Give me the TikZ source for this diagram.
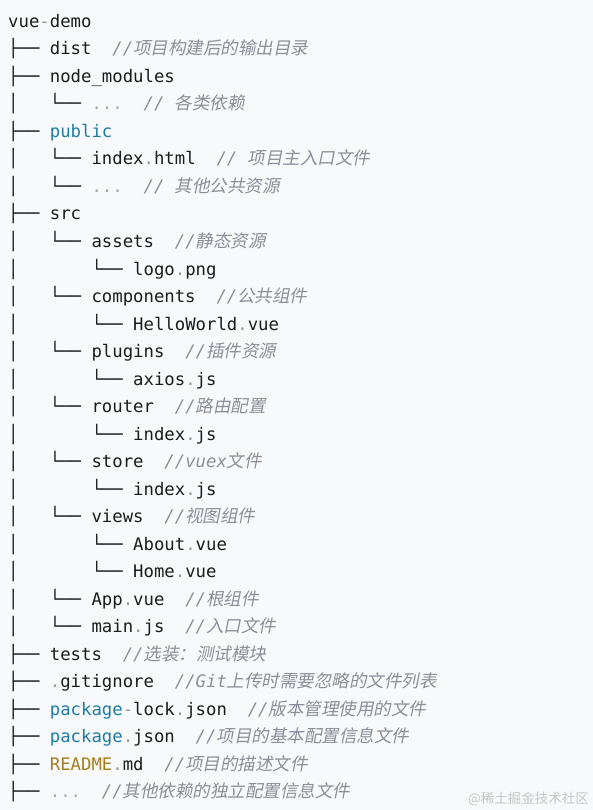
\documentclass[tikz,border=0pt]{standalone}
\usepackage{fontspec}
\setmonofont{DejaVu Sans Mono}
\newfontfamily\zhfont[FakeSlant=0.2]{Noto Sans CJK SC}
\newfontfamily\wmfont{Noto Sans CJK SC}
\definecolor{bg}{HTML}{F8F9FA}
\definecolor{ink}{HTML}{1C1C1C}
\definecolor{cmtc}{HTML}{8A8F99}
\definecolor{punct}{HTML}{9A9A9A}
\definecolor{dotsc}{HTML}{A8A8A8}
\definecolor{kw}{HTML}{1E7CA6}
\definecolor{gold}{HTML}{A67D1F}
\definecolor{wm}{HTML}{C6C6C6}
\newcommand\zh[1]{{\fontsize{17.5}{17.5}\selectfont\zhfont #1}}
\newcommand\cmt[1]{{\color{cmtc}\itshape #1}}
\newcommand\pu[1]{{\color{punct}#1}}
\newcommand\mydots{{\color{dotsc}...}}
\tikzset{treeline/.style={anchor=base west, inner sep=0pt, font=\ttfamily\fontsize{17.3}{27.5}\selectfont, text=ink}}
\begin{document}
\begin{tikzpicture}[x=1pt,y=-1pt]
\fill[bg] (0,0) rectangle (593,810);
\useasboundingbox (0,0) rectangle (593,810);
\node[treeline] (l0) at (8,27.5) {vue\pu{-}demo};
\node[treeline] (l1) at (8,55) {├──~dist~~\cmt{//\zh{项目构建后的输出目录}}};
\node[treeline] (l2) at (8,82.5) {├──~node\_modules};
\node[treeline] (l3) at (8,110) {│~~~└──~\mydots~~\cmt{//~\zh{各类依赖}}};
\node[treeline] (l4) at (8,137.5) {├──~{\color{kw}public}};
\node[treeline] (l5) at (8,165) {│~~~└──~index\pu{.}html~~\cmt{//~\zh{项目主入口文件}}};
\node[treeline] (l6) at (8,192.5) {│~~~└──~\mydots~~\cmt{//~\zh{其他公共资源}}};
\node[treeline] (l7) at (8,220) {├──~src};
\node[treeline] (l8) at (8,247.5) {│~~~└──~assets~~\cmt{//\zh{静态资源}}};
\node[treeline] (l9) at (8,275) {│~~~~~~~└──~logo\pu{.}png};
\node[treeline] (l10) at (8,302.5) {│~~~└──~components~~\cmt{//\zh{公共组件}}};
\node[treeline] (l11) at (8,330) {│~~~~~~~└──~HelloWorld\pu{.}vue};
\node[treeline] (l12) at (8,357.5) {│~~~└──~plugins~~\cmt{//\zh{插件资源}}};
\node[treeline] (l13) at (8,385) {│~~~~~~~└──~axios\pu{.}js};
\node[treeline] (l14) at (8,412.5) {│~~~└──~router~~\cmt{//\zh{路由配置}}};
\node[treeline] (l15) at (8,440) {│~~~~~~~└──~index\pu{.}js};
\node[treeline] (l16) at (8,467.5) {│~~~└──~store~~\cmt{//vuex\zh{文件}}};
\node[treeline] (l17) at (8,495) {│~~~~~~~└──~index\pu{.}js};
\node[treeline] (l18) at (8,522.5) {│~~~└──~views~~\cmt{//\zh{视图组件}}};
\node[treeline] (l19) at (8,550) {│~~~~~~~└──~About\pu{.}vue};
\node[treeline] (l20) at (8,577.5) {│~~~~~~~└──~Home\pu{.}vue};
\node[treeline] (l21) at (8,605) {│~~~└──~App\pu{.}vue~~\cmt{//\zh{根组件}}};
\node[treeline] (l22) at (8,632.5) {│~~~└──~main\pu{.}js~~\cmt{//\zh{入口文件}}};
\node[treeline] (l23) at (8,660) {├──~tests~~\cmt{//\zh{选装：测试模块}}};
\node[treeline] (l24) at (8,687.5) {├──~\pu{.}gitignore~~\cmt{//Git\zh{上传时需要忽略的文件列表}}};
\node[treeline] (l25) at (8,715) {├──~{\color{kw}package}\pu{-}lock\pu{.}json~~\cmt{//\zh{版本管理使用的文件}}};
\node[treeline] (l26) at (8,742.5) {├──~{\color{kw}package}\pu{.}json~~\cmt{//\zh{项目的基本配置信息文件}}};
\node[treeline] (l27) at (8,770) {├──~{\color{gold}README}\pu{.}md~~\cmt{//\zh{项目的描述文件}}};
\node[treeline] (l28) at (8,797.5) {├──~\mydots~~\cmt{//\zh{其他依赖的独立配置信息文件}}};
\node[anchor=base east, inner sep=0pt, text=wm, font=\wmfont\fontsize{13.5}{14}\selectfont] (wmk) at (589,803) {@稀土掘金技术社区};
\end{tikzpicture}
\end{document}
